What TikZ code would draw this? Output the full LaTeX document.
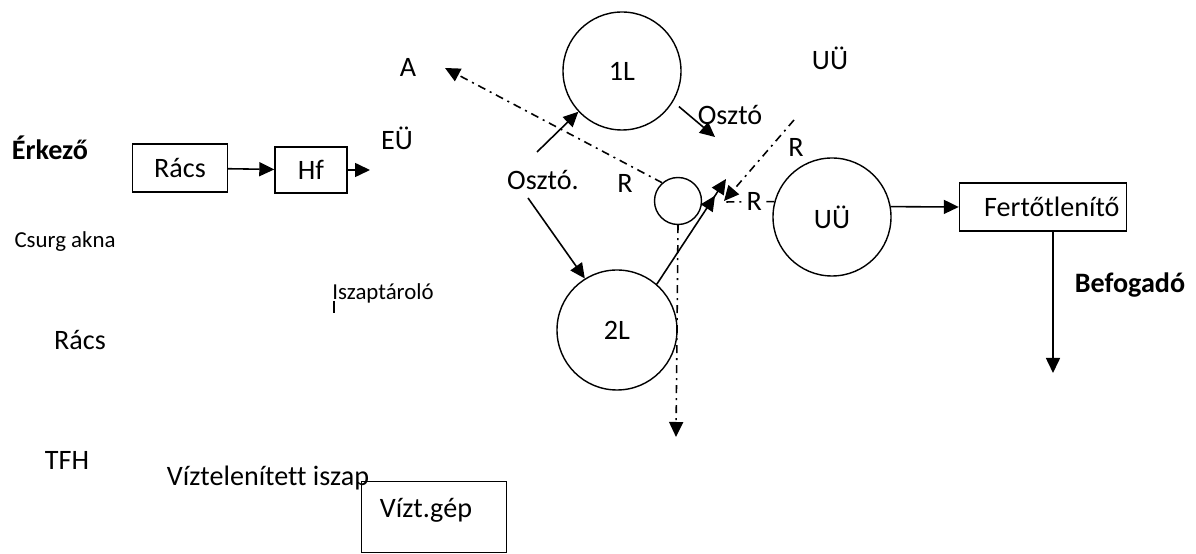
\documentclass[tikz,border=0pt]{standalone}
\usepackage{fontspec}
\setmainfont{Carlito}[Ligatures=NoCommon]
\usetikzlibrary{arrows.meta,positioning}
\tikzset{
  lbl/.style={font=\fontsize{16}{19}\selectfont, inner sep=1pt},
  lblsm/.style={font=\fontsize{13}{16}\selectfont, inner sep=1pt},
  lblbf/.style={font=\fontsize{16}{19}\selectfont\bfseries, inner sep=1pt},
  unitbox/.style={draw, line width=0.8pt, lbl},
  tank/.style={draw, circle, line width=0.8pt, lbl, inner sep=0pt, minimum size=#1},
  flow/.style={-{Triangle[length=3mm,width=2.8mm]}, line width=0.9pt},
  flowdbl/.style={-{Triangle[length=3mm,width=2.8mm,sep=1mm]Triangle[length=3mm,width=2.8mm]}, line width=0.9pt},
  recyc/.style={flow, dash pattern={on 1.6mm off 1mm on 0.4mm off 1mm}},
}

\begin{document}
\begin{tikzpicture}[x=0.2mm, y=-0.2mm]
  \useasboundingbox (0,0) rectangle (1196,554);

  % units
  \node[unitbox, minimum width=19mm, minimum height=9.6mm] (racs) at (180,168) {Rács};
  \node[unitbox, minimum width=14.4mm, minimum height=9.2mm] (hf) at (311,170) {Hf};
  \node[unitbox, text width=30.6mm, inner xsep=1.4mm, align=right, minimum height=9.6mm] (fert) at (1043,207) {Fertőtlenítő};
  \node[unitbox, minimum width=29mm, minimum height=14.2mm] (vizt) at (434,517) {};
  \node[lbl] (viztt) at (426,510) {Vízt.gép};

  % basins
  \node[tank=23.6mm] (c1L) at (622,71) {1L};
  \node[tank=24mm] (c2L) at (617,330) {2L};
  \node[tank=23.6mm] (cUU) at (832,217) {UÜ};
  \node[tank=9.4mm] (sc) at (678,201) {};

  % labels
  \node[lblbf] (erk) at (50,148) {Érkező};
  \node[lbl] (eu) at (397,138) {EÜ};
  \node[lbl] (la) at (408,67) {A};
  \node[lbl] (luu) at (830,58) {UÜ};
  \node[lbl] (osz1) at (730,115) {Osztó};
  \node[lbl] (osz2) at (543,180) {Osztó.};
  \node[lbl] (r1) at (625,183) {R};
  \node[lbl] (r2) at (796,147) {R};
  \node[lblsm] (csurg) at (65,242) {Csurg akna};
  \node[lblsm] (iszt) at (383,293) {Iszaptároló};
  \node[lbl] (racs2) at (80,340) {Rács};
  \node[lbl] (tfh) at (67,460) {TFH};
  \node[lbl] (viszap) at (268,478) {Víztelenített iszap};
  \node[lblbf] (bef) at (1130,285) {Befogadó};
  \draw[line width=0.6pt] (334,301) -- (334,313);

  % free ends
  \coordinate (euin) at (370,170);
  \coordinate (atip) at (445,68);
  \coordinate (o2up) at (537,152);
  \coordinate (o2dn) at (528,198);
  \coordinate (o1end) at (715,137);
  \coordinate (meet) at (726,179);
  \coordinate (rmeet) at (724,201);
  \coordinate (rline) at (724,202);
  \coordinate (rtop) at (794,120);
  \coordinate (waste) at (676,437);
  \coordinate (befend) at (1053,373);

  % water line
  \draw[flow] (racs) -- (hf);
  \draw[flow] (hf) -- (euin);
  \draw[flow] (o2up) -- (c1L.223);
  \draw[flow] (o2dn) -- (c2L.122);
  \draw[flow, shorten <=1.5mm] (c1L.-31) -- (o1end);
  \draw[flowdbl] (c2L.49) -- (meet);
  \draw[flow] (cUU.10) -- (fert.west);
  \draw[flow] (fert.south -| befend) -- (befend);

  % sludge lines
  \draw[recyc] (sc.131) -- (atip);
  \draw[recyc] (sc.south) -- (waste);
  \draw[recyc] (rtop) -- (rmeet);
  \draw[line width=0.9pt, dash pattern={on 1.6mm off 1mm on 0.4mm off 1mm}] (cUU.165) -- (rline)
    node[lbl, pos=0.4, fill=white, inner sep=0.5pt] (r3) {R};
\end{tikzpicture}
\end{document}
